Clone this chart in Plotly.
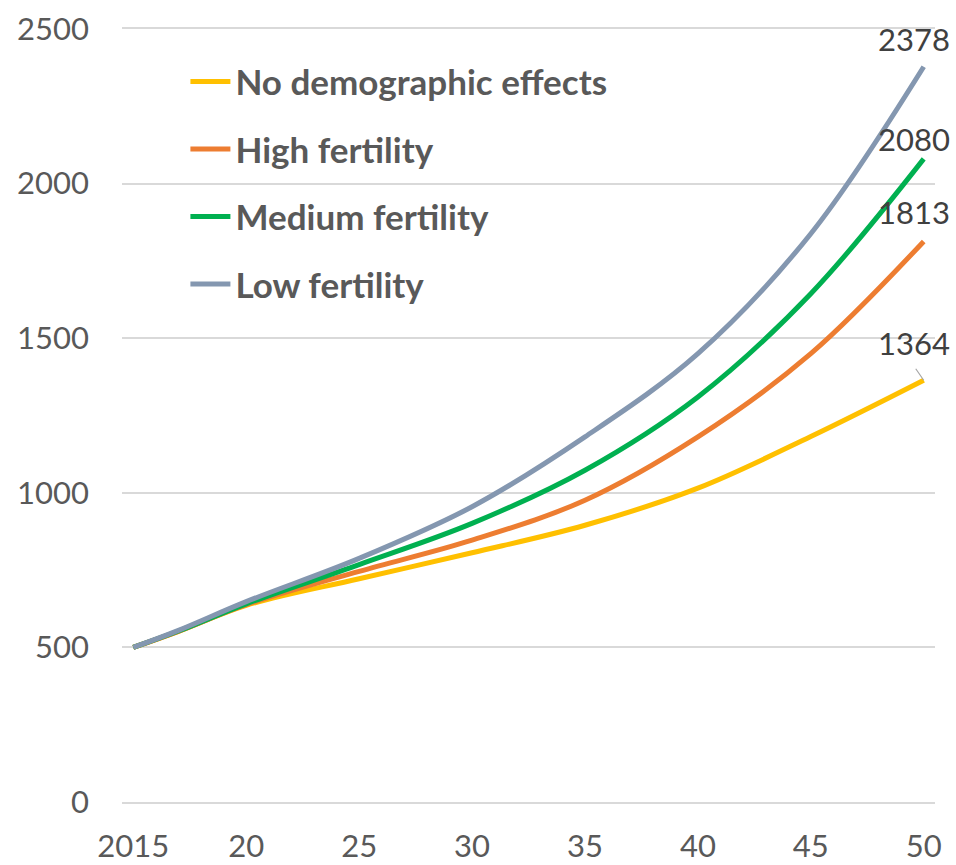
import plotly.graph_objects as go

years = [2015, 2017, 2020, 2025, 2030, 2035, 2040, 2045, 2050]
tick_vals = [2015, 2020, 2025, 2030, 2035, 2040, 2045, 2050]
tick_text = ["2015", "20", "25", "30", "35", "40", "45", "50"]

series_names = ["No demographic effects", "High fertility", "Medium fertility", "Low fertility"]
no_demo = [500, 552, 636, 722, 806, 895, 1015, 1182, 1364]
high_fert = [500, 552, 638, 746, 847, 976, 1181, 1450, 1813]
medium_fert = [500, 553, 641, 768, 901, 1073, 1310, 1644, 2080]
low_fert = [500, 555, 648, 788, 955, 1181, 1450, 1838, 2378]
series_values = [no_demo, high_fert, medium_fert, low_fert]
colors = ["#FFC000", "#ED7D31", "#00B050", "#8497B0"]
label_shift = [37, 29, 20, 28]

FONT = "Lato, Carlito, Calibri, sans-serif"
GRID = "#D9D9D9"

fig = go.Figure()
for i, (name, vals, col) in enumerate(zip(series_names, series_values, colors)):
    fig.add_trace(go.Scatter(
        x=years, y=vals, name=name, mode="lines",
        line=dict(color=col, width=5, shape="spline", smoothing=1.0),
        legendgroup=f"g{i}",
    ))
    fig.add_annotation(
        x=years[-1], y=vals[-1], text=str(vals[-1]), showarrow=False,
        xshift=-10, yshift=label_shift[i],
        font=dict(family=FONT, size=31, color="#404040"),
    )

# leader line for the lowest label
fig.add_annotation(
    x=years[-1], y=no_demo[-1], text="", showarrow=True, arrowhead=0,
    arrowwidth=1.2, arrowcolor="#A6A6A6", ax=-9, ay=-13,
)

fig.update_layout(
    width=956, height=865,
    margin=dict(l=122, r=21, t=29, b=63),
    plot_bgcolor="white", paper_bgcolor="white",
    font=dict(family=FONT, size=31, color="#595959"),
    showlegend=True,
    legend=dict(
        x=0.078, y=0.970, xanchor="left", yanchor="top",
        font=dict(family=FONT, size=35, color="#595959", weight="bold"),
        bgcolor="rgba(0,0,0,0)", tracegroupgap=19, itemwidth=40,
    ),
    xaxis=dict(
        range=[2014.5, 2050.5], tickmode="array", tickvals=tick_vals, ticktext=tick_text,
        showgrid=False, zeroline=False, automargin=False,
        showline=True, mirror=True, linecolor=GRID, linewidth=1.5,
        ticks="", ticklabelstandoff=16,
        tickfont=dict(family=FONT, size=31, color="#595959"),
    ),
    yaxis=dict(
        range=[0, 2500], tickvals=[0, 500, 1000, 1500, 2000, 2500],
        showgrid=True, gridcolor=GRID, gridwidth=1.5, automargin=False,
        zeroline=False, showline=False, ticks="",
        ticklabelstandoff=32,
        tickfont=dict(family=FONT, size=31, color="#595959"),
    ),
)

fig.write_html("out.html", config={"displayModeBar": False},
               post_script="document.body.style.margin='0';")
